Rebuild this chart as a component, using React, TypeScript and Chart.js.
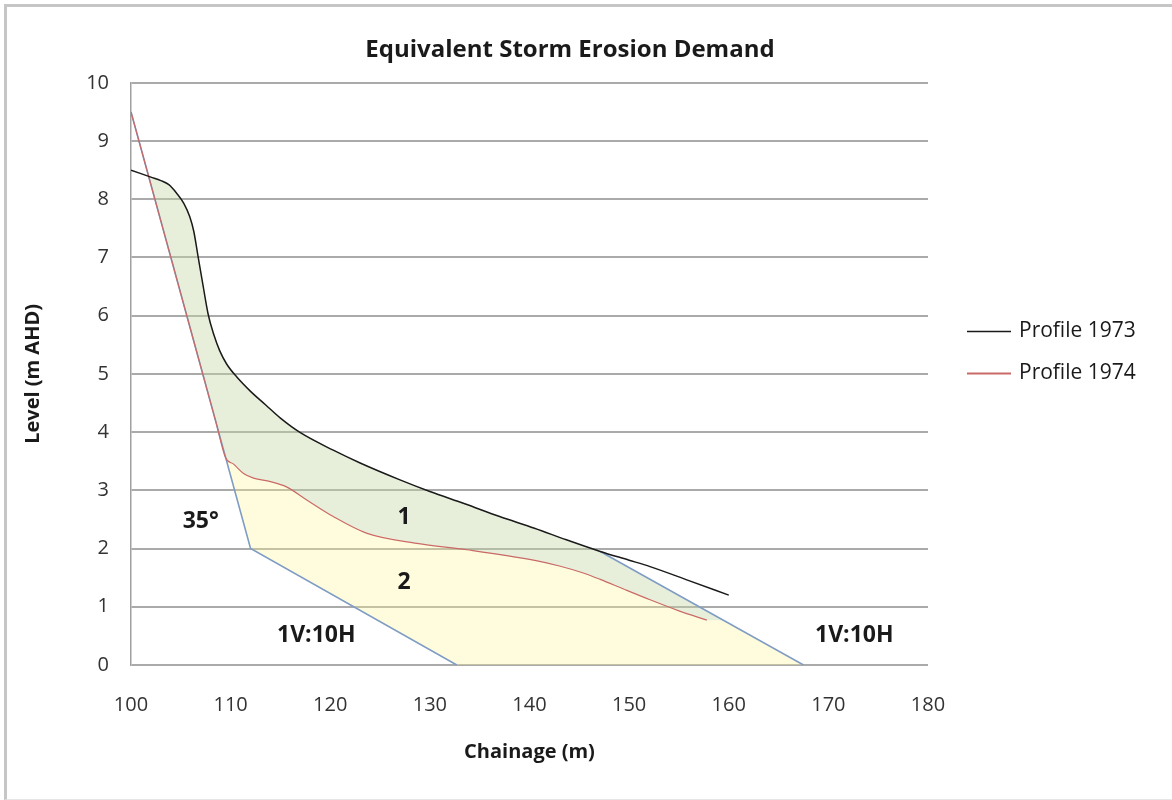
import React, { useEffect, useRef } from 'react';
import { Chart, registerables } from 'chart.js';

Chart.register(...registerables);

const FONT = '"Open Sans", Lato, "DejaVu Sans", sans-serif';

// ---- text ----
const TITLE = 'Equivalent Storm Erosion Demand';
const X_TITLE = 'Chainage (m)';
const Y_TITLE = 'Level (m AHD)';

// ---- axes ----
const X_MIN = 100;
const X_MAX = 180;
const X_STEP = 10;
const Y_MIN = 0;
const Y_MAX = 10;
const Y_STEP = 1;

// ---- series ----
const PROFILE_1973_X = [100, 101, 102, 103, 103.8, 104.6, 105.3, 105.9, 106.3, 106.7, 107.2, 107.75, 108.3, 108.9, 109.6, 110.6, 112, 113.5, 115, 117, 120.3, 123, 127, 130, 133.5, 137, 140.5, 143.7, 147.1, 150, 152.1, 156, 160];
const PROFILE_1973_Y = [8.5, 8.44, 8.38, 8.32, 8.25, 8.1, 7.93, 7.7, 7.45, 7.05, 6.55, 6.02, 5.68, 5.4, 5.17, 4.95, 4.7, 4.47, 4.24, 3.99, 3.69, 3.47, 3.18, 2.98, 2.77, 2.55, 2.35, 2.15, 1.95, 1.8, 1.69, 1.45, 1.2];

const PROFILE_1974_X = [100, 103, 106, 108.5, 109.5, 110.3, 111.3, 112.3, 114, 115.6, 117.6, 120.3, 123.7, 128.7, 133.7, 140.4, 143, 145.4, 147.1, 149.5, 152.1, 155, 157.8];
const PROFILE_1974_Y = [9.5, 7.625, 5.75, 4.19, 3.56, 3.45, 3.29, 3.21, 3.15, 3.06, 2.84, 2.55, 2.26, 2.09, 1.98, 1.8, 1.7, 1.58, 1.47, 1.3, 1.12, 0.93, 0.77];

// 35° slope then 1V:10H (landward limit)
const LIMIT_LEFT_X = [100, 112, 132.7];
const LIMIT_LEFT_Y = [9.5, 2.0, 0];
// 1V:10H seaward limit
const LIMIT_RIGHT_X = [147.1, 167.5];
const LIMIT_RIGHT_Y = [1.95, 0];

// ---- annotations ----
const NOTE_TEXT = ['35°', '1', '2', '1V:10H', '1V:10H'];
const NOTE_X = [107.0, 127.4, 127.4, 118.6, 172.6];
const NOTE_Y = [2.47, 2.53, 1.41, 0.5, 0.5];

// ---- colours ----
const COLOR_1973 = '#1a1a1a';
const COLOR_1974 = '#c96a66';
const COLOR_LIMIT = '#7f9cc4';
const COLOR_AREA1 = 'rgba(196,214,164,0.4)';
const COLOR_AREA2 = 'rgba(255,246,150,0.32)';

type P = { x: number; y: number };
const toPts = (xs: number[], ys: number[]): P[] => xs.map((x, i) => ({ x, y: ys[i] }));

function segIntersect(a: P[], b: P[]): P | null {
  for (let i = 0; i < a.length - 1; i++) {
    for (let j = 0; j < b.length - 1; j++) {
      const p = a[i], r = { x: a[i + 1].x - p.x, y: a[i + 1].y - p.y };
      const q = b[j], s = { x: b[j + 1].x - q.x, y: b[j + 1].y - q.y };
      const den = r.x * s.y - r.y * s.x;
      if (Math.abs(den) < 1e-12) continue;
      const t = ((q.x - p.x) * s.y - (q.y - p.y) * s.x) / den;
      const u = ((q.x - p.x) * r.y - (q.y - p.y) * r.x) / den;
      if (t >= 0 && t <= 1 && u >= 0 && u <= 1) return { x: p.x + t * r.x, y: p.y + t * r.y };
    }
  }
  return null;
}

function pointOnLineAtY(a: P, b: P, y: number): P {
  const t = (a.y - y) / (a.y - b.y);
  return { x: a.x + t * (b.x - a.x), y };
}

function yOnLine(a: P, b: P, x: number): number {
  return a.y + ((x - a.x) / (b.x - a.x)) * (b.y - a.y);
}

function buildAreas() {
  const black = toPts(PROFILE_1973_X, PROFILE_1973_Y);
  const red = toPts(PROFILE_1974_X, PROFILE_1974_Y);
  const left = toPts(LIMIT_LEFT_X, LIMIT_LEFT_Y);
  const right = toPts(LIMIT_RIGHT_X, LIMIT_RIGHT_Y);
  const top = segIntersect(black, left) || black[0];
  const redEnd = red[red.length - 1];
  const onRight = pointOnLineAtY(right[0], right[1], redEnd.y);

  // last 1974 point still lying on the 35° limit line
  let branch = 0;
  red.forEach((p, i) => {
    if (p.x <= left[1].x && Math.abs(p.y - yOnLine(left[0], left[1], p.x)) < 0.02) branch = i;
  });

  const area1: P[] = [top];
  black.forEach((p) => { if (p.x > top.x && p.x < right[0].x) area1.push(p); });
  area1.push(right[0], onRight);
  for (let i = red.length - 1; i >= branch; i--) area1.push(red[i]);
  area1.push(top);

  const area2: P[] = [];
  for (let i = branch; i < red.length; i++) area2.push(red[i]);
  area2.push(onRight, right[1], left[2], left[1], red[branch]);
  return { area1, area2 };
}

const overlayPlugin = {
  id: 'overlay',
  afterDatasetsDraw(chart: any) {
    const { ctx, scales } = chart;
    ctx.save();
    ctx.fillStyle = '#1a1a1a';
    ctx.font = `bold 23px ${FONT}`;
    ctx.textAlign = 'center';
    ctx.textBaseline = 'middle';
    NOTE_TEXT.forEach((t, i) => {
      ctx.fillText(t, scales.x.getPixelForValue(NOTE_X[i]), scales.y.getPixelForValue(NOTE_Y[i]));
    });
    ctx.restore();
  },
  afterDraw(chart: any) {
    const { ctx, chartArea } = chart;
    const items = chart.data.datasets.filter((d: any) => d.inLegend);
    const cy = (chartArea.top + chartArea.bottom) / 2;
    ctx.save();
    ctx.font = `21px ${FONT}`;
    ctx.textAlign = 'left';
    ctx.textBaseline = 'middle';
    items.forEach((d: any, i: number) => {
      const y = Math.round(cy - 43 + i * 42) + 0.5;
      const x0 = chartArea.right + 39;
      ctx.strokeStyle = d.borderColor;
      ctx.lineWidth = i === 0 ? 1.5 : 2;
      ctx.beginPath();
      ctx.moveTo(x0, y);
      ctx.lineTo(x0 + 44, y);
      ctx.stroke();
      ctx.fillStyle = '#1a1a1a';
      ctx.fillText(d.label, x0 + 52, y);
    });
    ctx.restore();
  },
};

export default function App() {
  const ref = useRef<HTMLCanvasElement>(null);

  useEffect(() => {
    if (!ref.current) return;
    const { area1, area2 } = buildAreas();
    const chart = new Chart(ref.current, {
      type: 'line',
      data: {
        datasets: [
          {
            label: 'Profile 1973',
            data: toPts(PROFILE_1973_X, PROFILE_1973_Y),
            borderColor: COLOR_1973,
            borderWidth: 1.5,
            pointRadius: 0,
            cubicInterpolationMode: 'monotone',
            fill: false,
            inLegend: true,
          } as any,
          {
            label: 'Profile 1974',
            data: toPts(PROFILE_1974_X, PROFILE_1974_Y),
            borderColor: COLOR_1974,
            borderWidth: 1.2,
            pointRadius: 0,
            cubicInterpolationMode: 'monotone',
            fill: false,
            inLegend: true,
          } as any,
          {
            label: 'Limit landward',
            data: toPts(LIMIT_LEFT_X, LIMIT_LEFT_Y),
            borderColor: COLOR_LIMIT,
            borderWidth: 1.6,
            pointRadius: 0,
            fill: false,
          },
          {
            label: 'Limit seaward',
            data: toPts(LIMIT_RIGHT_X, LIMIT_RIGHT_Y),
            borderColor: COLOR_LIMIT,
            borderWidth: 1.6,
            pointRadius: 0,
            fill: false,
          },
          {
            label: 'Area 1',
            data: area1,
            borderWidth: 0,
            borderColor: 'rgba(0,0,0,0)',
            backgroundColor: COLOR_AREA1,
            pointRadius: 0,
            fill: 'shape',
          } as any,
          {
            label: 'Area 2',
            data: area2,
            borderWidth: 0,
            borderColor: 'rgba(0,0,0,0)',
            backgroundColor: COLOR_AREA2,
            pointRadius: 0,
            fill: 'shape',
          } as any,
        ],
      },
      options: {
        responsive: false,
        animation: false,
        events: [],
        devicePixelRatio: 1,
        layout: { padding: { left: 10, right: 42, top: 0, bottom: 10 } },
        plugins: {
          legend: { display: false },
          tooltip: { enabled: false },
          title: {
            display: true,
            text: TITLE,
            color: '#1a1a1a',
            font: { family: FONT, size: 24, weight: 'bold' },
            padding: { top: 36, bottom: 18 },
          },
        },
        scales: {
          x: {
            type: 'linear',
            min: X_MIN,
            max: X_MAX,
            ticks: { stepSize: X_STEP, padding: 28, color: '#333', font: { family: FONT, size: 20 } },
            grid: { display: false, drawTicks: false },
            border: { display: false },
            title: {
              display: true,
              text: X_TITLE,
              color: '#1a1a1a',
              font: { family: FONT, size: 20, weight: 'bold' },
              padding: { top: 0, bottom: 26 },
            },
            afterFit: (s: any) => { s.height = 125; },
          },
          y: {
            type: 'linear',
            min: Y_MIN,
            max: Y_MAX,
            ticks: { stepSize: Y_STEP, padding: 22, color: '#333', font: { family: FONT, size: 20 } },
            grid: { color: '#aaaaaa', lineWidth: 2, drawTicks: false },
            border: { display: true, color: '#a0a0a0', width: 1.5 },
            title: {
              display: true,
              text: Y_TITLE,
              color: '#1a1a1a',
              font: { family: FONT, size: 20, weight: 'bold' },
              padding: { top: 11, bottom: 0 },
            },
            afterFit: (s: any) => { s.width = 121; },
          },
          legendSpace: {
            type: 'linear',
            position: 'right',
            display: true,
            ticks: { display: false },
            grid: { display: false, drawTicks: false },
            border: { display: false },
            afterFit: (s: any) => { s.width = 202; },
          },
        },
      } as any,
      plugins: [overlayPlugin],
    });
    return () => chart.destroy();
  }, []);

  return (
    <div style={{ position: 'fixed', left: 0, top: 0, width: 1172, height: 800, overflow: 'hidden', background: '#fff' }}>
      <canvas ref={ref} width={1172} height={800} style={{ position: 'absolute', left: 0, top: 0, width: 1172, height: 800 }} />
      <div
        style={{
          position: 'absolute',
          left: 4,
          top: 4,
          width: 1200,
          height: 792,
          borderTop: '3px solid #c6c6c6',
          borderLeft: '3px solid #c6c6c6',
          borderBottom: '1px solid #e6e6e6',
          pointerEvents: 'none',
        }}
      />
    </div>
  );
}
